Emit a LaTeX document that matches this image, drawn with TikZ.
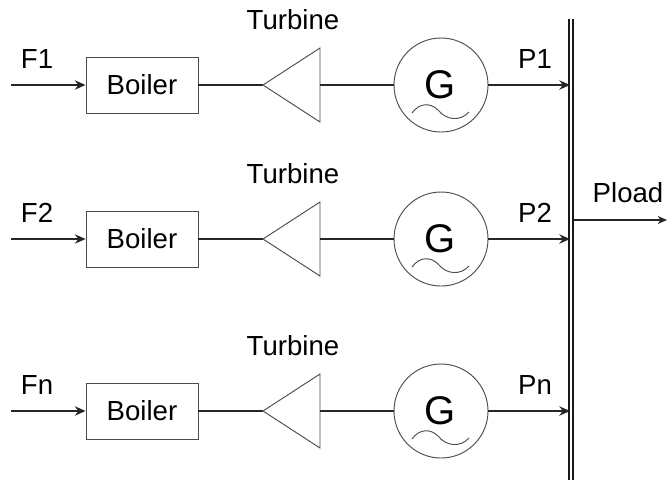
\documentclass[tikz,border=0pt]{standalone}
\usepackage{fontspec}
\setmainfont{Liberation Sans}
\usetikzlibrary{arrows.meta,shapes.geometric}
\tikzset{
  x=0.75pt,y=-0.75pt,
  wire/.style={line width=1.2pt,black!85},
  feed/.style={wire,-{Stealth[length=8pt,width=7pt]}},
  boilerbox/.style={draw=black!70,line width=0.7pt,minimum width=84pt,minimum height=42pt,inner sep=0pt,font=\fontsize{20.7}{20.7}\selectfont},
  gencircle/.style={circle,draw=black!70,line width=0.7pt,minimum size=70.5pt,inner sep=0pt},
  lbl/.style={font=\fontsize{20.7}{20.7}\selectfont,inner sep=0pt,text=black},
  turb/.style={draw=black!70,line width=0.7pt,fill=white},
  busline/.style={line width=1.5pt,black!90},
}
\begin{document}
\begin{tikzpicture}
\useasboundingbox (0,0) rectangle (667,480);
\coordinate (bt1) at (568.7,19); \coordinate (bb1) at (568.7,480);
\coordinate (bt2) at (573.3,19); \coordinate (bb2) at (573.3,480);
\draw[busline] (bt1) -- (bb1);
\draw[busline] (bt2) -- (bb2);
\foreach \i/\y/\fl/\pl in {1/85/F1/P1,2/239/F2/P2,3/411/Fn/Pn}{
  \coordinate (in\i) at (11,\y);
  \coordinate (out\i) at (570,\y);
  \node[boilerbox] (boiler\i) at (142,\y) {Boiler};
  \coordinate (tip\i) at (263,\y);
  \coordinate (ta\i) at (320,\y-37);
  \coordinate (tb\i) at (320,\y+37);
  \coordinate (tc\i) at (320,\y);
  \node[gencircle] (gen\i) at (441,\y) {};
  \node[inner sep=0pt,font=\fontsize{30}{30}\selectfont] (g\i) at (440,\y) {G};
  \draw[black!70,line width=0.7pt] (412,\y+28) .. controls (420,\y+17) and (431,\y+18) .. (438,\y+25)
     .. controls (446,\y+35) and (460,\y+37) .. (469,\y+27);
  \draw[feed] (in\i) -- (boiler\i.west);
  \draw[wire] (boiler\i.east) -- (tip\i);
  \draw[turb] (tip\i) -- (ta\i) -- (tb\i) -- cycle;
  \draw[wire] (tc\i) -- (gen\i.west);
  \draw[feed] (gen\i.east) -- (out\i);
  \node[lbl] (fl\i) at (37,\y-26) {\fl};
  \node[lbl] (pl\i) at (535,\y-26) {\pl};
}
\node[lbl] (t1) at (293,20) {Turbine};
\node[lbl] (t2) at (293,174) {Turbine};
\node[lbl] (t3) at (293,346) {Turbine};
\node[lbl] (pload) at (628,193) {Pload};
\coordinate (ls) at (573.3,220);
\coordinate (le) at (667,220);
\draw[line width=0.9pt,black!85,-{Stealth[length=7pt,width=6pt]}] (ls) -- (le);
\end{tikzpicture}
\end{document}
